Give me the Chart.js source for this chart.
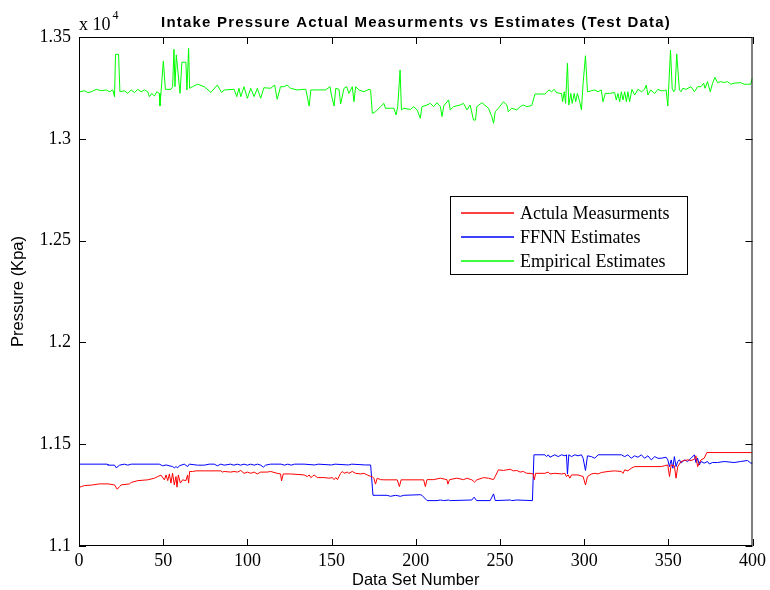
<!DOCTYPE html>
<html>
<head>
<meta charset="utf-8">
<title>Intake Pressure</title>
<script src="https://cdn.jsdelivr.net/npm/chart.js@4.4.1/dist/chart.umd.min.js"></script>
<style>
  html, body { margin: 0; padding: 0; background: #fff; }
  #wrap { width: 770px; height: 590px; }
</style>
</head>
<body>
<div id="wrap"><canvas id="chart" width="770" height="590"></canvas></div>
<script>
// axis ticks (pressure in kPa, shown as x 10^4)
const xTicks = [0, 50, 100, 150, 200, 250, 300, 350, 400];
const yTicks = [11000, 11500, 12000, 12500, 13000, 13500];

const chartTitle = 'Intake Pressure Actual Measurments vs Estimates (Test Data)';
const seriesNames = ['Actula Measurments', 'FFNN Estimates', 'Empirical Estimates'];
const seriesColors = ['#ff0000', '#0000ff', '#00ff00'];

// [data set number, pressure]
const actualPoints = [
  [0, 11287], [1.4, 11292], [3.4, 11297], [7.3, 11299], [12.2, 11305], [17.2, 11305], [21.1, 11300],
  [22.7, 11279], [24.1, 11292], [25, 11300], [30, 11305], [31, 11312], [34.9, 11321], [40.8, 11325],
  [44.8, 11333], [46.7, 11341], [48.7, 11348], [50.7, 11325], [51.7, 11349], [52.7, 11321], [53.7, 11354],
  [54.6, 11309], [55.6, 11357], [56.6, 11300], [57.6, 11341], [58.2, 11289], [59, 11349], [60.2, 11309],
  [61.5, 11325], [63.5, 11321], [64.5, 11349], [65.1, 11309], [65.7, 11366], [67.5, 11366], [69.4, 11369],
  [84.2, 11369], [85.2, 11363], [86.2, 11366], [90.1, 11363], [92.1, 11366], [94.1, 11363], [96.1, 11371],
  [98, 11357], [100, 11363], [102, 11357], [104, 11363], [105.9, 11354], [107.9, 11363], [111.8, 11363],
  [113.8, 11366], [117.7, 11357], [119.7, 11354], [120.3, 11320], [121.3, 11354], [125.6, 11354],
  [133.7, 11349], [135.7, 11341], [136.7, 11349], [137.7, 11336], [138.7, 11342], [139.6, 11349],
  [141.6, 11336], [145.6, 11336], [148.5, 11333], [150.5, 11336], [151.5, 11326], [152.5, 11336],
  [153.5, 11326], [154.4, 11341], [155.4, 11357], [156.4, 11366], [157.4, 11357], [159.3, 11363],
  [160.3, 11357], [162.3, 11366], [164.3, 11357], [167.3, 11354], [169.2, 11357], [171.2, 11349],
  [173.2, 11342], [174.2, 11341], [175.1, 11333], [176.1, 11304], [177.1, 11333], [179.1, 11326],
  [181.1, 11325], [189, 11325], [190.3, 11292], [191.3, 11325], [204.7, 11325], [205.7, 11292],
  [206.7, 11326], [210.6, 11326], [214.6, 11333], [218.5, 11326], [219.1, 11304], [220.1, 11326],
  [224.4, 11333], [228.4, 11326], [230.4, 11333], [233.3, 11325], [234.9, 11314], [236.3, 11325],
  [240.3, 11336], [243.2, 11333], [246.2, 11326], [247.2, 11342], [249.1, 11374], [252.1, 11371],
  [254.1, 11374], [256.1, 11377], [258, 11369], [260, 11371], [262, 11363], [263.9, 11366],
  [265.9, 11357], [267.9, 11357], [269.8, 11354], [270.4, 11325], [271.2, 11357], [276.7, 11357],
  [278.7, 11363], [279.7, 11354], [282.6, 11357], [286.6, 11354], [288.6, 11357], [289.5, 11341],
  [290.5, 11349], [291.5, 11333], [292.5, 11349], [296.4, 11349], [299.4, 11341], [300.8, 11300],
  [302, 11341], [304.3, 11354], [306.3, 11357], [308.3, 11354], [310.2, 11361], [314.2, 11366],
  [318.1, 11369], [322.1, 11366], [323.1, 11357], [324.1, 11374], [326, 11369], [328, 11382],
  [330, 11390], [345.8, 11390], [347.7, 11394], [349.7, 11398], [350.7, 11341], [351.7, 11398],
  [353.6, 11394], [354.6, 11333], [355.6, 11390], [357.6, 11415], [359.5, 11420], [361.5, 11423],
  [363.5, 11420], [365.5, 11426], [366.4, 11443], [367.4, 11390], [368.4, 11407], [369.4, 11423],
  [371.3, 11431], [372.9, 11459], [400, 11459]
];

const ffnnPoints = [
  [0, 11402], [16.8, 11402], [17.2, 11397], [21.1, 11397], [22.1, 11384], [24.1, 11397], [27, 11402],
  [29, 11397], [31, 11402], [47.7, 11402], [49.7, 11394], [51.7, 11398], [55.6, 11390], [56.6, 11384],
  [57.6, 11390], [58.6, 11384], [59.6, 11394], [62.5, 11402], [64.5, 11390], [65.5, 11402], [70.4, 11397],
  [74.4, 11397], [77.3, 11402], [80.3, 11402], [82.2, 11394], [84.2, 11402], [86.2, 11397], [90, 11402],
  [92, 11397], [94, 11402], [96, 11397], [98, 11402], [100, 11397], [102, 11402], [104, 11397],
  [106, 11402], [108, 11397], [109.5, 11387], [110.8, 11397], [113.8, 11402], [120, 11402], [122, 11397],
  [124, 11402], [126, 11397], [128, 11402], [133.7, 11402], [140, 11398], [142, 11402], [150, 11398],
  [152, 11402], [160, 11398], [162, 11402], [170, 11398], [173.2, 11398], [174.6, 11249], [177.1, 11249],
  [183, 11249], [185, 11244], [188, 11249], [190.9, 11244], [192.9, 11249], [202.7, 11252], [203.7, 11249],
  [206.7, 11223], [212.6, 11223], [214.6, 11226], [216.6, 11223], [219.5, 11226], [220.5, 11223],
  [233.3, 11226], [234.7, 11240], [236.1, 11223], [244.2, 11223], [246.2, 11256], [247.2, 11223],
  [256.1, 11226], [257, 11223], [260, 11226], [269.3, 11223], [270.2, 11448], [276.7, 11448],
  [277.7, 11439], [278.7, 11448], [279.7, 11436], [282.6, 11448], [284.6, 11439], [286.6, 11448],
  [288.6, 11443], [289.5, 11448], [290.1, 11353], [290.9, 11448], [292.5, 11439], [294.5, 11448],
  [296.4, 11443], [298.4, 11448], [299.4, 11431], [300.8, 11371], [302, 11443], [304.3, 11439],
  [306.3, 11431], [308.3, 11448], [322.1, 11448], [324.1, 11439], [326, 11448], [328, 11431],
  [330, 11443], [332, 11436], [334, 11448], [335.9, 11431], [337.9, 11443], [339.9, 11423],
  [341.9, 11439], [343.8, 11431], [345.8, 11431], [348.7, 11436], [349.7, 11423], [350.7, 11390],
  [351.7, 11423], [352.7, 11382], [353.6, 11439], [354.6, 11390], [355.6, 11415], [356.6, 11423],
  [357.6, 11407], [359.5, 11423], [361.5, 11415], [363.5, 11431], [365.5, 11448], [366.4, 11410],
  [367.4, 11431], [368.4, 11398], [369.4, 11415], [371.3, 11407], [373.3, 11415], [374.3, 11403],
  [376.3, 11410], [379.2, 11410], [383.2, 11415], [389.1, 11410], [393, 11415], [397, 11420],
  [399, 11407], [400, 11407]
];

const empiricalPoints = [
  [0.4, 13231], [3.4, 13236], [5.3, 13227], [7.3, 13231], [10.3, 13243], [13.2, 13236], [16.2, 13240],
  [18.1, 13231], [20.1, 13240], [21.1, 13207], [21.7, 13415], [23.5, 13415], [24.3, 13231], [27, 13236],
  [29, 13223], [31, 13240], [33, 13227], [34.9, 13243], [36.9, 13231], [38.9, 13240], [40.8, 13231],
  [41.8, 13207], [43.2, 13223], [44.8, 13210], [46.2, 13231], [47.7, 13223], [48.1, 13161], [50.1, 13382],
  [51.3, 13243], [54.6, 13243], [55.6, 13256], [56.4, 13440], [57, 13256], [57.8, 13412], [60, 13223],
  [61.1, 13376], [63.5, 13376], [64.1, 13240], [65.1, 13444], [65.7, 13248], [67.5, 13256], [70.4, 13268],
  [74.4, 13256], [78.3, 13228], [82.2, 13264], [84.6, 13228], [86.5, 13240], [92.1, 13243], [93.7, 13207],
  [95, 13248], [96.1, 13207], [98, 13256], [100, 13199], [102, 13248], [104, 13207], [105.9, 13248],
  [107.9, 13199], [109.8, 13251], [113.8, 13248], [116.2, 13264], [117.7, 13194], [119.7, 13256],
  [121.7, 13256], [123.7, 13264], [125.6, 13248], [129.6, 13240], [133.7, 13243], [134.7, 13243],
  [136.7, 13161], [137.7, 13240], [146.5, 13240], [149.1, 13256], [149.9, 13215], [151.5, 13161],
  [152.5, 13248], [154.4, 13243], [155.4, 13171], [157.4, 13248], [159, 13256], [160.3, 13223],
  [162.3, 13256], [163.3, 13182], [164.3, 13256], [166.2, 13240], [169.2, 13231], [172.2, 13243],
  [173.2, 13240], [174.2, 13125], [176.1, 13133], [179.1, 13158], [181.1, 13174], [182, 13150],
  [185, 13150], [187, 13150], [188.3, 13117], [189.3, 13158], [190.7, 13338], [191.5, 13142],
  [192.9, 13150], [196.8, 13144], [198.8, 13158], [200.8, 13142], [202.7, 13101], [203.7, 13158],
  [206.7, 13166], [208.7, 13174], [210.6, 13158], [212.6, 13177], [214.6, 13158], [215.6, 13109],
  [216.6, 13161], [219.5, 13191], [220.5, 13142], [222.5, 13158], [226.4, 13166], [228.4, 13174],
  [230.4, 13142], [232.3, 13166], [234.3, 13092], [235.5, 13092], [236.3, 13158], [239.3, 13177],
  [243.2, 13150], [245.2, 13109], [246.2, 13076], [247.2, 13133], [249.1, 13150], [252.1, 13182],
  [254.1, 13166], [255, 13133], [257, 13150], [260, 13142], [262, 13158], [263.9, 13166],
  [265.9, 13158], [268.9, 13163], [270.8, 13220], [276.7, 13220], [277.7, 13228], [279.1, 13240],
  [280.7, 13231], [282.2, 13243], [283.6, 13227], [285.6, 13223], [286.6, 13223], [287.2, 13182],
  [288.2, 13231], [289, 13174], [290.1, 13371], [290.9, 13166], [292.1, 13223], [292.9, 13174],
  [294.1, 13223], [295, 13182], [296, 13223], [297.4, 13182], [298.4, 13142], [299.4, 13273],
  [300.8, 13408], [302, 13231], [304.3, 13236], [306.3, 13240], [308.3, 13231], [310.2, 13240],
  [311.2, 13182], [312.6, 13223], [315.2, 13223], [318.1, 13227], [319.1, 13191], [320.1, 13223],
  [321.1, 13182], [322.1, 13231], [323.1, 13191], [324.1, 13231], [325.1, 13182], [326, 13231],
  [327, 13182], [328.4, 13243], [330, 13215], [332, 13243], [334, 13231], [335.9, 13243],
  [336.9, 13264], [337.9, 13215], [339.5, 13240], [341.9, 13223], [343.8, 13243], [345.8, 13236],
  [347.7, 13236], [348.7, 13240], [349.7, 13161], [351.3, 13436], [352.3, 13248], [353.2, 13231],
  [354, 13240], [355, 13417], [356.6, 13240], [357.6, 13231], [358.6, 13248], [360.5, 13243],
  [363.5, 13256], [365.5, 13231], [367.4, 13256], [369.4, 13256], [371, 13273], [371.8, 13248],
  [373.3, 13281], [374.9, 13231], [376.3, 13273], [377.7, 13302], [379.2, 13276], [381.2, 13281],
  [383.2, 13276], [385.1, 13281], [387.1, 13268], [389.1, 13273], [393, 13276], [395, 13268],
  [397, 13268], [398.9, 13268], [399.9, 13297]
];

const toXY = pts => pts.map(p => ({ x: p[0], y: p[1] }));

// box, inward ticks, legend, title and the x10^4 multiplier, MATLAB style
const matlabFrame = {
  id: 'matlabFrame',
  afterDatasetsDraw(chart) {
    const { ctx, chartArea: a, scales: { x, y } } = chart;
    const tick = 7;
    ctx.save();
    ctx.strokeStyle = '#000';
    ctx.lineWidth = 1;

    ctx.beginPath();
    xTicks.forEach(v => {
      const px = Math.round(x.getPixelForValue(v)) + 0.5;
      ctx.moveTo(px, a.bottom); ctx.lineTo(px, a.bottom - tick);
      ctx.moveTo(px, a.top); ctx.lineTo(px, a.top + tick);
    });
    yTicks.forEach(v => {
      const py = Math.round(y.getPixelForValue(v)) + 0.5;
      ctx.moveTo(a.left, py); ctx.lineTo(a.left + tick, py);
      ctx.moveTo(a.right, py); ctx.lineTo(a.right - tick, py);
    });
    ctx.stroke();
    ctx.strokeRect(a.left + 0.5, a.top + 0.5, a.right - a.left - 1, a.bottom - a.top - 1);

    // legend box
    const lx = 450.5, ly = 196.5, lw = 237, lh = 78;
    ctx.fillStyle = '#fff';
    ctx.fillRect(lx, ly, lw, lh);
    ctx.strokeStyle = '#000';
    ctx.strokeRect(lx, ly, lw, lh);
    ctx.font = '18px "Liberation Serif", "Times New Roman", serif';
    ctx.textBaseline = 'middle';
    ctx.textAlign = 'left';
    seriesNames.forEach((name, i) => {
      const cy = 213 + i * 24;
      ctx.strokeStyle = seriesColors[i];
      ctx.lineWidth = 1.5;
      ctx.beginPath();
      ctx.moveTo(461, cy);
      ctx.lineTo(514, cy);
      ctx.stroke();
      ctx.fillStyle = '#000';
      ctx.fillText(name, 520, cy + 1);
    });

    // title
    ctx.fillStyle = '#000';
    ctx.textBaseline = 'alphabetic';
    ctx.textAlign = 'center';
    ctx.font = 'bold 15px "Liberation Sans", Arial, sans-serif';
    ctx.letterSpacing = '1.2px';
    ctx.fillText(chartTitle, 416, 27);
    ctx.letterSpacing = '0px';

    // exponent label
    ctx.textAlign = 'left';
    ctx.font = '18px "Liberation Serif", "Times New Roman", serif';
    ctx.fillText('x 10', 79, 30);
    const w = ctx.measureText('x 10').width;
    ctx.font = '12px "Liberation Serif", "Times New Roman", serif';
    ctx.fillText('4', 79 + w + 2, 19);
    ctx.restore();
  }
};

const serifTicks = { family: '"Liberation Serif", "Times New Roman", serif', size: 18 };
const sansTitle = { family: '"Liberation Sans", Arial, sans-serif', size: 16.5 };

new Chart(document.getElementById('chart'), {
  type: 'line',
  data: {
    datasets: [
      { label: seriesNames[0], data: toXY(actualPoints), borderColor: seriesColors[0] },
      { label: seriesNames[1], data: toXY(ffnnPoints), borderColor: seriesColors[1] },
      { label: seriesNames[2], data: toXY(empiricalPoints), borderColor: seriesColors[2] }
    ]
  },
  options: {
    responsive: false,
    animation: false,
    layout: { padding: { top: 37, right: 14, left: 0, bottom: 0 } },
    elements: {
      line: { borderWidth: 1, tension: 0, fill: false },
      point: { radius: 0 }
    },
    plugins: {
      legend: { display: false },
      title: { display: false },
      tooltip: { enabled: false }
    },
    scales: {
      x: {
        type: 'linear',
        min: 0,
        max: 400,
        afterBuildTicks: s => { s.ticks = xTicks.map(v => ({ value: v })); },
        afterFit: s => { s.height = 44; },
        grid: { display: false, drawTicks: false },
        border: { display: false },
        ticks: { color: '#000', font: serifTicks, padding: 4, maxRotation: 0 },
        title: { display: true, text: 'Data Set Number', color: '#000', font: sansTitle, padding: { top: 0, bottom: 0 } }
      },
      y: {
        type: 'linear',
        min: 11000,
        max: 13500,
        afterBuildTicks: s => { s.ticks = yTicks.map(v => ({ value: v })); },
        afterFit: s => { s.width = 79; },
        grid: { display: false, drawTicks: false },
        border: { display: false },
        ticks: {
          color: '#000',
          font: serifTicks,
          padding: 8,
          callback: v => String(Math.round(v / 100) / 100)
        },
        title: { display: true, text: 'Pressure (Kpa)', color: '#000', font: sansTitle, padding: { top: 9, bottom: 0 } }
      }
    }
  },
  plugins: [matlabFrame]
});
</script>
</body>
</html>
